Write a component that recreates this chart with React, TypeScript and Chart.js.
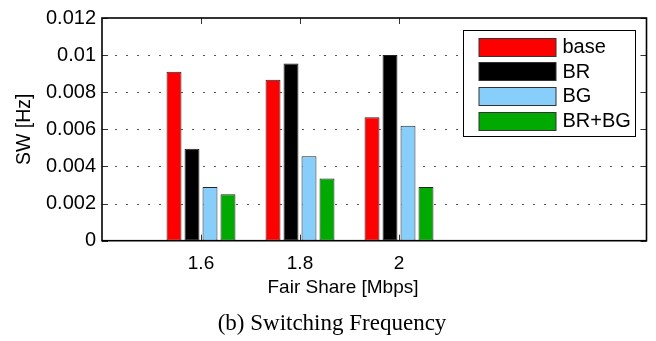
import { useEffect, useRef } from "react";
import { Chart, registerables } from "chart.js";

Chart.register(...registerables);

// Fair share (Mbps) groups and switching frequency per scheme
const fairShare = [1.6, 1.8, 2];
const seriesNames = ["base", "BR", "BG", "BR+BG"];
const baseValues = [0.0091, 0.00867, 0.00665];
const brValues = [0.00495, 0.00955, 0.01];
const bgValues = [0.0029, 0.00455, 0.0062];
const brbgValues = [0.0025, 0.00335, 0.0029];
const seriesColors = ["#ff0000", "#000000", "#87cefa", "#00aa00"];

const xTickValues = [1.6, 1.8, 2];
const xTickLabels = ["1.6", "1.8", "2"];
const yTickValues = [0, 0.002, 0.004, 0.006, 0.008, 0.01, 0.012];
const yTickLabels = ["0", "0.002", "0.004", "0.006", "0.008", "0.01", "0.012"];

const xTitle = "Fair Share [Mbps]";
const yTitle = "SW [Hz]";
const caption = "(b) Switching Frequency";

const SANS = "'Liberation Sans', Arial, Helvetica, sans-serif";
const SERIF = "'Liberation Serif', 'Times New Roman', serif";

// Box, inward ticks, dotted grid, inset legend and captions
const framePlugin = {
  id: "matlabFrame",
  beforeDatasetsDraw(chart: any) {
    const { ctx, chartArea: a, scales } = chart;
    const xs = scales.x;
    const ys = scales.y;
    ctx.save();
    ctx.strokeStyle = "#555";
    ctx.lineWidth = 1;
    ctx.setLineDash([2, 9]);
    yTickValues.forEach((v) => {
      if (v <= ys.min || v >= ys.max) return;
      const py = Math.round(ys.getPixelForValue(v)) + 0.5;
      ctx.beginPath();
      ctx.moveTo(a.left + 2, py);
      ctx.lineTo(a.right, py);
      ctx.stroke();
    });
    ctx.setLineDash([]);
    ctx.strokeStyle = "#333";
    const tl = 6;
    xTickValues.forEach((v) => {
      const px = Math.round(xs.getPixelForValue(v)) + 0.5;
      ctx.beginPath();
      ctx.moveTo(px, a.bottom);
      ctx.lineTo(px, a.bottom - tl);
      ctx.moveTo(px, a.top);
      ctx.lineTo(px, a.top + tl);
      ctx.stroke();
    });
    yTickValues.forEach((v) => {
      const py = Math.round(ys.getPixelForValue(v)) + 0.5;
      ctx.beginPath();
      ctx.moveTo(a.left, py);
      ctx.lineTo(a.left + tl, py);
      ctx.moveTo(a.right, py);
      ctx.lineTo(a.right - tl, py);
      ctx.stroke();
    });
    ctx.restore();
  },
  afterDatasetsDraw(chart: any) {
    const { ctx, chartArea: a } = chart;
    ctx.save();
    // axes box
    ctx.strokeStyle = "#000";
    ctx.lineWidth = 1.6;
    ctx.strokeRect(a.left, a.top, a.right - a.left, a.bottom - a.top);

    // legend
    const bw = 172;
    const bh = 106;
    const bx = Math.round(a.right - 11.5 - bw) + 0.5;
    const by = Math.round(a.top + 12) + 0.5;
    ctx.fillStyle = "#fff";
    ctx.fillRect(bx, by, bw, bh);
    ctx.lineWidth = 1;
    ctx.strokeStyle = "#000";
    ctx.strokeRect(bx, by, bw, bh);
    ctx.font = `20px ${SANS}`;
    ctx.textAlign = "left";
    ctx.textBaseline = "middle";
    chart.data.datasets.forEach((ds: any, i: number) => {
      const cy = by + 16 + i * 24.7;
      const sx = bx + 15.5;
      const sy = Math.round(cy - 9) + 0.5;
      ctx.fillStyle = ds.backgroundColor;
      ctx.fillRect(sx, sy, 77, 18);
      ctx.strokeStyle = "#333";
      ctx.strokeRect(sx, sy, 77, 18);
      ctx.fillStyle = "#000";
      ctx.fillText(ds.label, bx + 99, cy + 1);
    });

    // axis title and figure caption
    ctx.fillStyle = "#000";
    ctx.textAlign = "center";
    ctx.textBaseline = "alphabetic";
    ctx.font = `19px ${SANS}`;
    ctx.fillText(xTitle, 343, 293);
    ctx.font = `23px ${SERIF}`;
    ctx.fillText(caption, 332, 330);
    ctx.restore();
  },
};

export default function App() {
  const canvasRef = useRef<HTMLCanvasElement | null>(null);

  useEffect(() => {
    const canvas = canvasRef.current;
    if (!canvas) return;
    const seriesValues = [baseValues, brValues, bgValues, brbgValues];
    const chart = new Chart(canvas, {
      type: "bar",
      data: {
        datasets: seriesNames.map((name, i) => ({
          label: name,
          data: fairShare.map((x, j) => ({ x, y: seriesValues[i][j] })),
          backgroundColor: seriesColors[i],
          borderColor: "#222",
          borderWidth: 1,
          borderSkipped: false,
          categoryPercentage: 0.727,
          barPercentage: 0.83,
        })),
      },
      options: {
        responsive: false,
        animation: false,
        devicePixelRatio: 1,
        layout: { padding: { left: 0, right: 9.5, top: 12, bottom: 0 } },
        plugins: {
          legend: { display: false },
          tooltip: { enabled: false },
        },
        scales: {
          x: {
            type: "linear",
            min: 1.4,
            max: 2.5,
            offset: false,
            grid: { display: false, offset: false, drawTicks: false },
            border: { display: false },
            afterBuildTicks: (scale: any) => {
              scale.ticks = xTickValues.map((v) => ({ value: v }));
            },
            afterFit: (scale: any) => {
              scale.height = 100.3;
            },
            ticks: {
              padding: 12,
              color: "#000",
              font: { family: SANS, size: 19 },
              maxRotation: 0,
              callback: (_v: any, i: number) => xTickLabels[i],
            },
          },
          y: {
            min: 0,
            max: 0.012,
            grid: { display: false, drawTicks: false },
            border: { display: false },
            afterBuildTicks: (scale: any) => {
              scale.ticks = yTickValues.map((v) => ({ value: v }));
            },
            afterFit: (scale: any) => {
              scale.width = 102;
            },
            ticks: {
              padding: 6,
              color: "#000",
              font: { family: SANS, size: 20 },
              callback: (_v: any, i: number) => yTickLabels[i],
            },
            title: {
              display: true,
              text: yTitle,
              color: "#000",
              font: { family: SANS, size: 19.5 },
              padding: { top: 12.6, bottom: 0 },
            },
          },
        },
      },
      plugins: [framePlugin],
    } as any);
    return () => chart.destroy();
  }, []);

  return (
    <div style={{ position: "absolute", left: 0, top: 0, width: 656, height: 341, background: "#fff" }}>
      <canvas ref={canvasRef} width={656} height={341} />
    </div>
  );
}
